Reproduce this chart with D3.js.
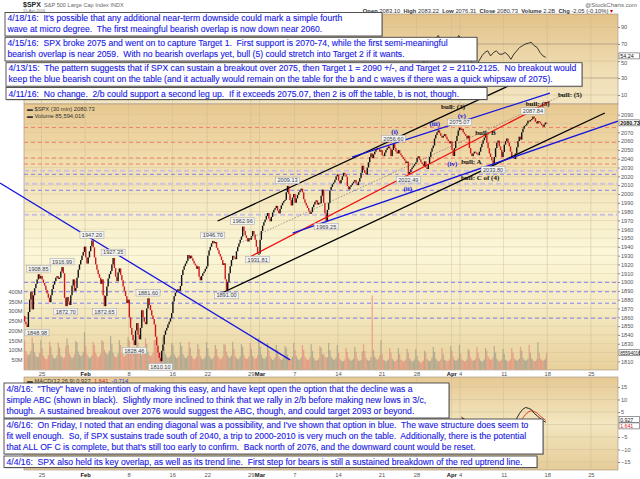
<!DOCTYPE html>
<html>
<head>
<meta charset="utf-8">
<script src="https://cdn.jsdelivr.net/npm/d3@7"></script>
<style>
  body { margin: 0; background: #fff; }
  svg { display: block; }
  text { font-family: "Liberation Sans", Arial, sans-serif; }
</style>
</head>
<body>
<div id="chart"></div>
<script>
// ---- data ----
const tradingDays = [
  "2016-01-21","2016-01-22","2016-01-25","2016-01-26","2016-01-27","2016-01-28","2016-01-29",
  "2016-02-01","2016-02-02","2016-02-03","2016-02-04","2016-02-05",
  "2016-02-08","2016-02-09","2016-02-10","2016-02-11","2016-02-12",
  "2016-02-16","2016-02-17","2016-02-18","2016-02-19",
  "2016-02-22","2016-02-23","2016-02-24","2016-02-25","2016-02-26","2016-02-29",
  "2016-03-01","2016-03-02","2016-03-03","2016-03-04",
  "2016-03-07","2016-03-08","2016-03-09","2016-03-10","2016-03-11",
  "2016-03-14","2016-03-15","2016-03-16","2016-03-17","2016-03-18",
  "2016-03-21","2016-03-22","2016-03-23","2016-03-24",
  "2016-03-28","2016-03-29","2016-03-30","2016-03-31","2016-04-01",
  "2016-04-04","2016-04-05","2016-04-06","2016-04-07","2016-04-08",
  "2016-04-11","2016-04-12","2016-04-13","2016-04-14","2016-04-15",
  // future sessions on the axis, no data
  "2016-04-18","2016-04-19","2016-04-20","2016-04-21","2016-04-22","2016-04-25","2016-04-26"
];

const firstOpen = 1861.5;
// intraday bar closes, 7 bars per session
const barCloses = [
  [1855,1852,1848.98,1866,1880,1889,1869],
  [1885,1893,1898,1903,1908.85,1904,1906.9],
  [1903,1899,1896,1891,1887,1882,1877.1],
  [1885,1892,1897,1901,1905,1906.7,1903.6],
  [1905,1912,1916.99,1910,1882,1872.7,1882.9],
  [1878,1874,1885,1896,1903,1890,1893.4],
  [1905,1914,1920,1925,1930,1934,1940.2],
  [1928,1921,1928,1935,1941,1947.2,1939.4],
  [1928,1920,1914,1909,1905,1898,1903],
  [1885,1872.65,1884,1895,1904,1909,1912.5],
  [1920,1927.35,1916,1906,1901,1911,1915.5],
  [1908,1902,1895,1890,1884,1876,1880],
  [1860,1848,1840,1834,1828.46,1845,1853.4],
  [1840,1835,1848,1868,1860,1855,1852.2],
  [1870,1881.6,1874,1868,1862,1858,1851.9],
  [1838,1828,1820,1814,1810.1,1822,1829.1],
  [1840,1845,1848,1852,1855,1859,1864.8],
  [1878,1884,1888,1890,1892,1890,1895.6],
  [1908,1914,1918,1921,1924,1930.7,1926.8],
  [1930,1927,1924,1921,1919,1915,1917.8],
  [1906,1902,1907,1910,1912,1915,1917.8],
  [1930,1936,1940,1944,1946.7,1944,1945.5],
  [1939,1936,1932,1929,1925,1919.4,1921.3],
  [1903,1891,1900,1910,1918,1925,1929.8],
  [1928,1926,1935,1940,1944,1948,1951.7],
  [1962.96,1958,1953,1950,1946,1950,1948],
  [1952,1958,1954,1948,1940,1931.81,1932.2],
  [1948,1958,1964,1968,1971,1975,1978.4],
  [1972,1969,1974,1979,1982,1984,1986.5],
  [1981,1978,1983,1987,1990,1992,1993.4],
  [2002,2009.13,2000,1993,1987,1996,2000],
  [1990,1995,1999,2002,2004,2006,2001.8],
  [1994,1990,1987,1984,1981,1977.4,1979.3],
  [1985,1988,1991,1992.7,1988,1990,1989.3],
  [1998,2005,1990,1978,1969.25,1982,1989.6],
  [2004,2008,2011,2013,2016,2020,2022.2],
  [2015,2012,2016,2020,2024,2022,2019.6],
  [2009,2005.2,2008,2010,2012,2014,2015.9],
  [2012,2010,2014,2018,2024,2032,2027.2],
  [2024,2022,2030,2036,2042,2046,2040.6],
  [2045,2048,2050,2052,2051,2048,2049.6],
  [2044,2043,2047,2050,2052,2054,2051.6],
  [2043,2050,2056.6,2052,2048,2046,2049.8],
  [2046,2044,2042,2040,2038,2035,2036.7],
  [2022.49,2025,2028,2030,2032,2034,2035.9],
  [2041,2042.7,2039,2036,2034,2032,2037],
  [2030,2028.3,2034,2042,2048,2052,2055],
  [2063,2067,2070,2072.2,2069,2066,2064],
  [2066,2067.9,2065,2062,2060,2057.5,2059.7],
  [2050,2043.14,2052,2060,2066,2072,2075.07],
  [2073,2074,2070,2068,2066,2063,2066.1],
  [2052,2046,2043,2046,2048,2047,2045.2],
  [2044,2048,2053,2057,2061,2064,2066.7],
  [2058,2052,2046,2042,2038,2033.8,2041.9],
  [2052,2058,2060.6,2054,2050,2042,2047.6],
  [2056,2060,2062.9,2058,2054,2048,2042],
  [2041,2039.7,2046,2053,2060,2065,2061.7],
  [2070,2074,2077,2078,2080,2083.2,2082.4],
  [2084,2085,2087.84,2086,2082,2080,2082.8],
  [2082,2080,2078,2076.3,2079,2081,2080.73]
];

// volume per bar, millions
const barVolumes = [
  [150,95,80,72,78,95,165],[135,88,70,62,66,85,150],[112,72,60,52,56,74,142],[118,76,60,55,58,72,138],
  [112,72,64,58,62,120,160],[126,82,66,58,62,78,146],[138,92,76,68,72,88,192],
  [122,80,66,58,62,72,140],[126,86,70,62,68,82,150],[142,102,86,76,80,96,172],[130,86,70,62,66,82,150],[126,86,74,66,72,86,166],
  [148,110,92,82,86,96,172],[140,100,82,72,78,92,160],[132,90,76,68,72,86,150],[152,116,96,84,88,96,166],[120,80,66,58,62,72,136],
  [126,80,66,58,62,72,140],[120,80,66,58,62,72,142],[110,70,60,52,56,66,130],[106,70,56,52,56,66,140],
  [110,70,60,52,56,66,126],[106,70,60,52,56,66,130],[126,92,70,60,62,72,142],[106,70,60,52,56,66,130],[116,76,60,54,56,66,136],[106,70,60,54,58,72,162],
  [116,76,60,54,56,66,136],[100,70,56,48,52,62,126],[100,66,56,48,52,62,120],[112,76,60,54,56,66,136],
  [100,70,56,48,52,62,126],[100,66,56,48,52,62,130],[96,60,50,44,48,56,120],[112,76,82,66,62,62,136],[100,66,56,48,52,62,126],
  [86,56,46,40,44,52,110],[90,60,50,44,48,56,116],[90,56,46,44,48,92,130],[96,60,50,44,48,62,380],[100,66,56,48,54,72,150],
  [80,50,46,40,44,52,110],[86,56,46,40,44,52,110],[80,50,46,40,44,52,106],[86,56,46,40,44,52,106],
  [70,46,40,34,38,46,96],[86,56,46,42,46,62,116],[90,56,46,40,44,52,110],[80,50,46,40,44,52,120],[96,66,50,44,48,56,126],
  [80,50,46,40,44,52,106],[96,60,50,44,48,56,116],[86,56,46,40,44,52,110],[96,66,56,48,52,62,120],[86,56,46,40,44,52,106],
  [80,50,46,40,44,52,110],[86,56,50,44,48,56,116],[96,60,50,44,48,56,126],[86,56,46,40,44,52,140],[86,56,50,44,48,56,86]
];

// RSI(14), three readings per session, from 2016-03-28
const rsiStart = "2016-03-28";
const rsiValues = [
  [48,45,50],[46,60,70],[76,80,74],[70,66,62],[60,72,80],
  [76,68,62],[52,46,44],[50,56,60],[62,56,60],[62,58,58],
  [60,57,52],[58,62,66],[68,70,71],[72,68,66],[60,56,54.24]
];

// MACD(12,26,9), three readings per session, from 2016-04-04
const macdStart = "2016-04-04";
const macdLine = [
  [3,2,1],[-1,-3,-4],[-3,-1,1],[0,-3,-5],[-4,-3,-3],
  [-1,0.5,-1.5],[-1,2.5,4.5],[6,6.8,6.5],[6,4.5,3.5],[2.5,1.5,0.927]
];
const macdSignal = [
  [2.5,2.2,1.8],[1,0,-1],[-1.5,-1.2,-0.5],[-0.5,-1.2,-2.2],[-2.8,-3,-3],
  [-2.5,-1.8,-1.4],[-1,0,1.2],[2.5,4,5],[5.5,5.2,4.6],[3.5,2.5,1.641]
];

// price levels (dashed)
const redLevels = [2075.5, 2058.6, 2040.8, 2034];
const blueLevels = [2022.3, 2004.2, 1899.7, 1889, 1876, 1859];
const paleLevels = [2026.4, 2011.7, 1976.5];

// trend lines: [session index, price] pairs
const trendLines = [
  { name: "downtrend", color: "#1515e0", pts: [[-2.76, 2012.5], [30.5, 1811.7]] },
  { name: "chanTop",   color: "#000",    pts: [[22.2, 1969.3], [55.5, 2122.5]] },
  { name: "chanBot",   color: "#000",    pts: [[22.2, 1885.3], [66.6, 2091.9]] },
  { name: "chanMid",   color: "#777",    pts: [[24.76, 1944.3], [62.3, 2114.6]], dash: "1.5,1.5", w: 0.7 },
  { name: "redUp",     color: "#ee1010", pts: [[26, 1929], [60.3, 2105]] },
  { name: "blueTop",   color: "#1515e0", pts: [[37.6, 2041.8], [60.3, 2114.6]] },
  { name: "blueBot",   color: "#1515e0", pts: [[30.8, 1955.6], [68.1, 2082.7]] }
];

// price tags on highs / lows
const tagDates = ["2016-01-21","2016-01-22","2016-01-27","2016-01-27","2016-02-01","2016-02-03","2016-02-04",
  "2016-02-08","2016-02-10","2016-02-11","2016-02-22","2016-02-24","2016-02-26","2016-02-29","2016-03-04",
  "2016-03-10","2016-03-22","2016-03-24","2016-04-01","2016-04-07","2016-04-14"];
const tagValues = [1848.98,1908.85,1916.99,1872.70,1947.20,1872.65,1927.35,
  1828.46,1881.60,1810.10,1946.70,1891.00,1962.96,1931.81,2009.13,
  1969.25,2056.60,2022.49,2075.07,2033.80,2087.84];

// wave labels: [session index, price, text]
const bullLabels = [
  [62.6, 2110.6, "bull: (5)"], [58.9, 2099.6, "bull: (5)"], [49.2, 2096.4, "bull: (3)"],
  [52.9, 2066.9, "bull: B"], [51.3, 2033.6, "bull: A"], [52.3, 2015.3, "bull: C of (4)"]
];
const waveLabels = [
  [42.5, 2068.2, "(i)"], [44.0, 2003.9, "(ii)"], [47.1, 2076.6, "(iii)"], [49.1, 2031.2, "(iv)"], [50.2, 2085.8, "(v)"]
];

const dateTicks = [
  ["2016-01-25","25"],["2016-02-01","Feb"],["2016-02-08","8"],["2016-02-16","16"],["2016-02-22","22"],
  ["2016-02-29","29"],["2016-03-01","Mar"],["2016-03-07","7"],["2016-03-14","14"],["2016-03-21","21"],
  ["2016-03-28","28"],["2016-04-01","Apr"],["2016-04-04","4"],["2016-04-11","11"],["2016-04-18","18"],["2016-04-25","25"]
];
const priceTicks = [1810,1830,1840,1850,1860,1870,1880,1890,1900,1910,1920,1930,1940,1950,1960,1970,
  1980,1990,2000,2010,2020,2030,2040,2050,2060,2070,2090];
const gridTicks = [1810,1820,1830,1840,1850,1860,1870,1880,1890,1900,1910,1920,1930,1940,1950,1960,1970,
  1980,1990,2000,2010,2020,2030,2040,2050,2060,2070,2080,2090];
const volumeTicks = [50,100,150,200,250,300,350,400];
const rsiTicks = [10,30,50,70,90];
const macdTicks = [-15,-10,-5,5,10,15];

const notesTop = [
  { x: 5, y: 12.5, w: 377, h: 23.5, lines: [
    "4/18/16:  It's possible that any additional near-term downside could mark a simple fourth",
    "wave at micro degree.  The first meaingful bearish overlap is now down near 2060."] },
  { x: 5, y: 37.3, w: 472, h: 23.7, lines: [
    "4/15/16:  SPX broke 2075 and went on to capture Target 1.  First support is 2070-74, while the first semi-meaningful",
    "bearish overlap is near 2059.  With no bearish overlaps yet, bull (5) could stretch into Target 2 if it wants."] },
  { x: 6, y: 62.7, w: 576, h: 23.5, lines: [
    "4/13/15:  The pattern suggests that if SPX can sustain a breakout over 2075, then Target 1 = 2090 +/-, and Target 2 = 2110-2125.  No breakout would",
    "keep the blue bearish count on the table (and it actually would remain on the table for the b and c waves if there was a quick whipsaw of 2075)."] },
  { x: 6, y: 87.5, w: 481, h: 12, lines: [
    "4/11/16:  No change.  2/b could support a second leg up.  If it exceeds 2075.07, then 2 is off the table, b is not, though."] }
];
const notesBottom = [
  { x: 4, y: 383, w: 445, h: 35, lines: [
    "4/8/16:  \"They\" have no intention of making this easy, and have kept open the option that the decline was a",
    "simple ABC (shown in black).  Slightly more inclined to think that we rally in 2/b before making new lows in 3/c,",
    "though.  A sustained breakout over 2076 would suggest the ABC, though, and could target 2093 or beyond."] },
  { x: 4, y: 419, w: 539, h: 35, lines: [
    "4/6/16:  On Friday, I noted that an ending diagonal was a possibility, and I've shown that option in blue.  The wave structure does seem to",
    "fit well enough.  So, if SPX sustains trade south of 2040, a trip to 2000-2010 is very much on the table.  Additionally, there is the potential",
    "that ALL OF C is complete, but that's still too early to confirm.  Back north of 2076, and the downward count would be reset."] },
  { x: 4, y: 456, w: 533, h: 11.5, lines: [
    "4/4/16:  SPX also held its key overlap, as well as its trend line.  First step for bears is still a sustained breakdown of the red uptrend line."] }
];

// ---- layout ----
const W = 640, H = 479;
const plotL = 24, plotR = 618;
const rsiTop = 14, rsiBot = 104;
const priceTop = 104, priceBot = 370;
const macdTop = 377, macdBot = 470;

const svg = d3.select("#chart").append("svg").attr("width", W).attr("height", H);
const defs = svg.append("defs");

function grad(id, stops) {
  const g = defs.append("linearGradient").attr("id", id).attr("x1", 0).attr("y1", 0).attr("x2", 0).attr("y2", 1);
  stops.forEach(s => g.append("stop").attr("offset", s[0]).attr("stop-color", s[1]));
}
grad("gRsi", [[0, "#e3c288"], [0.6, "#efdcb2"], [1, "#f3e6c2"]]);
grad("gPrice", [[0, "#e8c890"], [0.25, "#f2e0b2"], [0.55, "#fbf7d8"], [0.75, "#f6ecc6"], [1, "#e8d09a"]]);
grad("gMacd", [[0, "#e6c994"], [0.5, "#f3e6c0"], [1, "#e6cc98"]]);

const x = d3.scaleLinear().domain([0, 70]).range([24.06, 24.06 + 70 * 8.72]);
const yPrice = d3.scaleLinear().domain([1860, 2070]).range([317.3, 132.3]);
const yVol = d3.scaleLinear().domain([0, 400]).range([369.5, 291.5]);
const yRsi = d3.scaleLinear().domain([0, 100]).range([103.5, 18.5]);
const yMacd = d3.scaleLinear().domain([-15, 15]).range([462, 387]);

const dayIndex = d => tradingDays.indexOf(d);

// panels
[["gRsi", rsiTop, rsiBot], ["gPrice", priceTop, priceBot], ["gMacd", macdTop, macdBot]].forEach(p => {
  svg.append("rect").attr("x", plotL).attr("y", p[1]).attr("width", plotR - plotL).attr("height", p[2] - p[1])
    .attr("fill", `url(#${p[0]})`).attr("stroke", "#a09080").attr("stroke-width", 0.6);
});

// vertical grid
const tickIdx = dateTicks.map(d => dayIndex(d[0]));
[[rsiTop, rsiBot], [priceTop, priceBot], [macdTop, macdBot]].forEach(p => {
  svg.append("g").selectAll("line").data(tickIdx).join("line")
    .attr("x1", d => x(d)).attr("x2", d => x(d)).attr("y1", p[0]).attr("y2", p[1])
    .attr("stroke", "#c8b690").attr("stroke-width", 0.6).attr("opacity", 0.7);
});
// horizontal grid
svg.append("g").selectAll("line").data(gridTicks).join("line")
  .attr("x1", plotL).attr("x2", plotR).attr("y1", d => yPrice(d)).attr("y2", d => yPrice(d))
  .attr("stroke", "#d2c29c").attr("stroke-width", 0.5).attr("opacity", 0.8);
svg.append("g").selectAll("line").data(rsiTicks).join("line")
  .attr("x1", plotL).attr("x2", plotR).attr("y1", d => yRsi(d)).attr("y2", d => yRsi(d))
  .attr("stroke", d => (d === 70 || d === 30) ? "#9a8c78" : "#d0bf98").attr("stroke-width", 0.6);
svg.append("g").selectAll("line").data(macdTicks.concat([0])).join("line")
  .attr("x1", plotL).attr("x2", plotR).attr("y1", d => yMacd(d)).attr("y2", d => yMacd(d))
  .attr("stroke", "#d0bf98").attr("stroke-width", 0.5);

// bars
const bars = [];
barCloses.forEach((day, i) => {
  day.forEach((c, j) => {
    const o = j === 0 ? (i === 0 ? firstOpen : barCloses[i - 1][6]) : day[j - 1];
    bars.push({ t: i + (j + 0.5) / 7, o: o, c: c, v: barVolumes[i][j] });
  });
});

// volume
svg.append("g").selectAll("rect").data(bars).join("rect")
  .attr("x", d => x(d.t) - 0.6).attr("width", 1.2)
  .attr("y", d => yVol(d.v)).attr("height", d => yVol(0) - yVol(d.v))
  .attr("fill", d => d.c >= d.o ? "#9c988a" : "#e2887a").attr("opacity", 0.7);

// price levels
function levels(arr, color, w, dash) {
  svg.append("g").selectAll("line").data(arr).join("line")
    .attr("x1", plotL).attr("x2", plotR).attr("y1", d => yPrice(d)).attr("y2", d => yPrice(d))
    .attr("stroke", color).attr("stroke-width", w).attr("stroke-dasharray", dash);
}
levels(paleLevels, "#cbc2e2", 2, "5,3");
levels(redLevels, "#f0806c", 1, "4,3");
levels(blueLevels, "#8080f0", 1, "4,3");

// candles
svg.append("g").selectAll("rect").data(bars).join("rect")
  .attr("x", d => x(d.t) - 0.7).attr("width", 1.4)
  .attr("y", d => yPrice(Math.max(d.o, d.c)))
  .attr("height", d => Math.max(1, Math.abs(yPrice(d.o) - yPrice(d.c))))
  .attr("fill", d => d.c >= d.o ? "#111" : "#d01818");

// trend lines
const line = d3.line().x(d => x(d[0])).y(d => yPrice(d[1]));
svg.append("g").selectAll("path").data(trendLines).join("path")
  .attr("d", d => line(d.pts)).attr("fill", "none")
  .attr("stroke", d => d.color).attr("stroke-width", d => d.w || 1.3)
  .attr("stroke-dasharray", d => d.dash || null);

// price tags
const tags = tagDates.map((d, k) => {
  const i = dayIndex(d), day = barCloses[i], v = tagValues[k];
  let j = 0;
  day.forEach((c, m) => { if (Math.abs(c - v) < Math.abs(day[j] - v)) j = m; });
  const high = Math.abs(v - d3.max(day)) <= Math.abs(v - d3.min(day));
  return { t: i + (j + 0.5) / 7, v: v, high: high };
});
const tagG = svg.append("g").selectAll("g").data(tags).join("g")
  .attr("transform", d => `translate(${Math.max(plotL + 13, x(d.t))},${yPrice(d.v) + (d.high ? -5.5 : 5.5)})`);
tagG.append("rect").attr("x", -12).attr("y", -3.3).attr("width", 24).attr("height", 6.6)
  .attr("fill", "#f4f4f4").attr("stroke", "#a0a0a0").attr("stroke-width", 0.5);
tagG.append("text").attr("text-anchor", "middle").attr("y", 2).attr("font-size", 5.6).attr("fill", "#444")
  .text(d => d.v.toFixed(2));

// wave labels
svg.append("g").selectAll("text").data(bullLabels).join("text")
  .attr("x", d => x(d[0])).attr("y", d => yPrice(d[1])).attr("text-anchor", "middle")
  .style("font-family", "'Liberation Serif', 'Times New Roman', serif").attr("font-weight", "bold")
  .attr("font-size", 7).attr("fill", "#111").text(d => d[2]);
svg.append("g").selectAll("text").data(waveLabels).join("text")
  .attr("x", d => x(d[0])).attr("y", d => yPrice(d[1])).attr("text-anchor", "middle")
  .style("font-family", "'Liberation Serif', 'Times New Roman', serif").attr("font-weight", "bold")
  .attr("font-size", 7).attr("fill", "#1515e0").text(d => d[2]);

// RSI
const rsiPts = [];
rsiValues.forEach((day, k) => day.forEach((r, j) => rsiPts.push([dayIndex(rsiStart) + k + (j + 0.5) / 3, r])));
svg.append("path").datum(rsiPts).attr("fill", "none").attr("stroke", "#222").attr("stroke-width", 0.9)
  .attr("d", d3.line().x(d => x(d[0])).y(d => yRsi(d[1])));

// MACD
const toPts = (arr) => {
  const out = [];
  arr.forEach((day, k) => day.forEach((m, j) => out.push([dayIndex(macdStart) + k + (j + 0.5) / 3, m])));
  return out;
};
const mLine = d3.line().x(d => x(d[0])).y(d => yMacd(d[1]));
svg.append("path").datum(toPts(macdSignal)).attr("fill", "none").attr("stroke", "#e03020").attr("stroke-width", 0.9).attr("d", mLine);
svg.append("path").datum(toPts(macdLine)).attr("fill", "none").attr("stroke", "#111").attr("stroke-width", 0.9).attr("d", mLine);

// axes
const axisText = (g, size, color) => g.selectAll("text").attr("font-size", size).attr("fill", color)
  .style("font-family", "'Liberation Sans', Arial, sans-serif");

const dateAxis = d3.axisBottom(x).tickValues(tickIdx).tickSize(0).tickPadding(0)
  .tickFormat((d, k) => dateTicks[k][1]);
[priceBot + 6.3, macdBot + 7.3].forEach(yy => {
  const g = svg.append("g").attr("transform", `translate(0,${yy})`).call(dateAxis);
  g.select(".domain").remove();
  axisText(g, 5.8, "#555");
  g.selectAll("text").attr("dy", 0)
    .attr("font-weight", (d, k) => isNaN(+dateTicks[k][1]) ? "bold" : null)
    .attr("fill", (d, k) => isNaN(+dateTicks[k][1]) ? "#111" : "#555");
});

const pAxis = svg.append("g").attr("transform", `translate(${plotR},0)`)
  .call(d3.axisRight(yPrice).tickValues(priceTicks).tickSize(2).tickPadding(1).tickFormat(d3.format("d")));
pAxis.select(".domain").remove();
pAxis.selectAll("line").attr("stroke", "#888");
axisText(pAxis, 5.6, "#555");

const rAxis = svg.append("g").attr("transform", `translate(${plotR},0)`)
  .call(d3.axisRight(yRsi).tickValues(rsiTicks).tickSize(2).tickPadding(1));
rAxis.select(".domain").remove();
rAxis.selectAll("line").attr("stroke", "#888");
axisText(rAxis, 5.6, "#555");
rAxis.selectAll("text").filter(d => d === 50).attr("dy", "0.62em");

const mAxis = svg.append("g").attr("transform", `translate(${plotR},0)`)
  .call(d3.axisRight(yMacd).tickValues(macdTicks).tickSize(2).tickPadding(1));
mAxis.select(".domain").remove();
mAxis.selectAll("line").attr("stroke", "#888");
axisText(mAxis, 5.6, "#555");

const vAxis = svg.append("g").attr("transform", `translate(${plotL},0)`)
  .call(d3.axisLeft(yVol).tickValues(volumeTicks).tickSize(0).tickPadding(1.5).tickFormat(d => d + "M"));
vAxis.select(".domain").remove();
axisText(vAxis, 5.6, "#555");

// value tags on right axis
function rightTag(yy, label, color, bold, size) {
  const g = svg.append("g").attr("transform", `translate(${plotR + 1},${yy})`);
  g.append("rect").attr("x", 0).attr("y", -3).attr("width", 20.5).attr("height", 6)
    .attr("fill", "#fff").attr("stroke", "#555").attr("stroke-width", 0.6);
  g.append("text").attr("x", 1.2).attr("y", 2).attr("font-size", size).attr("fill", color)
    .attr("font-weight", bold ? "bold" : null).text(label);
}
rightTag(yPrice(barCloses[59][6]), "2080.73", "#111", true, 5.4);
rightTag(yRsi(rsiValues[14][2]) - 1.5, "54.24", "#111", false, 5.4);
rightTag(yVol(barVolumes[59][6]), "85594016", "#111", false, 4.6);
rightTag(yMacd(macdLine[9][2]) - 2.5, "0.927", "#111", false, 5.2);
rightTag(yMacd(macdSignal[9][2]) + 5.5, "1.641", "#d02020", false, 5.2);

// header
svg.append("text").attr("x", 23).attr("y", 6.8).attr("font-size", 7).attr("font-weight", "bold").attr("fill", "#222").text("$SPX");
svg.append("text").attr("x", 44).attr("y", 6.8).attr("font-size", 5.6).attr("fill", "#666").text("S&P 500 Large Cap Index  INDX");
svg.append("text").attr("x", 23).attr("y", 12).attr("font-size", 4).attr("fill", "#777").text("15-Apr-2016");
svg.append("text").attr("x", 637).attr("y", 6.5).attr("text-anchor", "end").attr("font-size", 6).attr("fill", "#666").text("@StockCharts.com");
const hdr = svg.append("text").attr("x", 613).attr("y", 13.3).attr("text-anchor", "end").attr("font-size", 5.8).attr("fill", "#333");
[["Open ", 1], ["2083.10  ", 0], ["High ", 1], ["2083.22  ", 0], ["Low ", 1], ["2076.31  ", 0], ["Close ", 1], ["2080.73  ", 0],
 ["Volume ", 1], ["2.2B  ", 0], ["Chg ", 1], ["-2.05 (-0.10%) ", 0]].forEach(s => {
  hdr.append("tspan").attr("font-weight", s[1] ? "bold" : null).style("white-space", "pre").text(s[0]);
});
hdr.append("tspan").attr("fill", "#c00000").text("\u25BE");

// panel legends
svg.append("text").attr("x", 27).attr("y", 111).attr("font-size", 5.8).attr("fill", "#333").style("white-space", "pre").text("\u25AC $SPX (30 min) 2080.73");
svg.append("text").attr("x", 27).attr("y", 117.5).attr("font-size", 5.8).attr("fill", "#333").style("white-space", "pre").text("\u25AC Volume 85,594,016");
const mLeg = svg.append("text").attr("x", 27).attr("y", 382.5).attr("font-size", 5.8).attr("fill", "#333").style("white-space", "pre");
mLeg.append("tspan").text("\u25AC MACD(12,26,9) 0.927, ");
mLeg.append("tspan").attr("fill", "#d02020").text("1.641");
mLeg.append("tspan").text(", ");
mLeg.append("tspan").attr("fill", "#2040d0").text("-0.714");

// note boxes
const probe = svg.append("text").attr("font-size", 10).style("white-space", "pre").text(notesTop[2].lines[0]);
const fs = 10 * 569 / probe.node().getComputedTextLength();
probe.remove();

function drawNotes(notes) {
  notes.forEach(n => {
    const g = svg.append("g");
    g.append("rect").attr("x", n.x + 1).attr("y", n.y + 1).attr("width", n.w).attr("height", n.h)
      .attr("fill", "#888").attr("opacity", 0.5);
    g.append("rect").attr("x", n.x).attr("y", n.y).attr("width", n.w).attr("height", n.h)
      .attr("fill", "#fff").attr("stroke", "#444").attr("stroke-width", 0.9);
    const step = n.lines.length > 1 ? (n.h - 2) / n.lines.length : n.h;
    n.lines.forEach((t, k) => {
      g.append("text").attr("x", n.x + 2.5).attr("y", n.y + step * k + step * 0.5 + fs * 0.36)
        .attr("font-size", fs).attr("fill", "#1a1ae6").attr("stroke", "#1a1ae6").attr("stroke-width", 0.12)
        .style("white-space", "pre").text(t);
    });
  });
}
drawNotes(notesTop);
drawNotes(notesBottom);
</script>
</body>
</html>
